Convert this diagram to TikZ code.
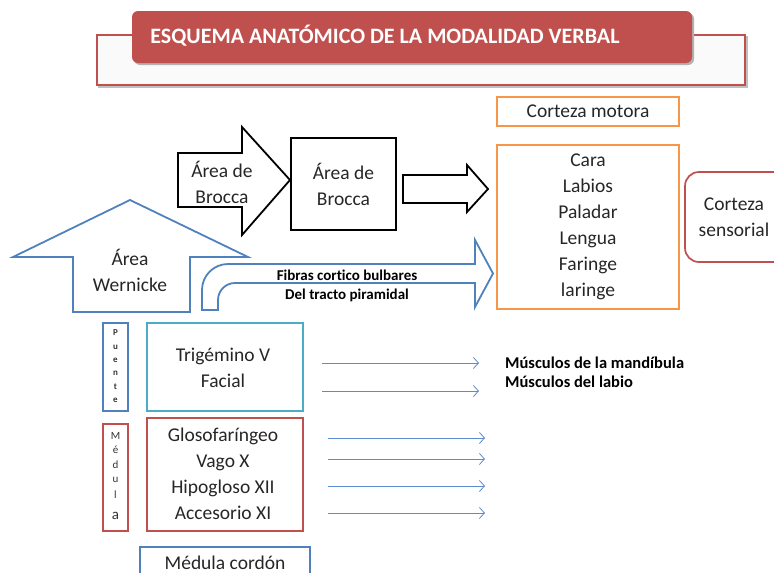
\documentclass[tikz,border=0pt]{standalone}
\usepackage{fontspec}
\setmainfont{Carlito}[Ligatures=NoCommon]
\usetikzlibrary{arrows.meta}
\definecolor{cred}{HTML}{C0504D}
\definecolor{corange}{HTML}{F79646}
\definecolor{cblue}{HTML}{4F81BD}
\definecolor{ccyan}{HTML}{4BACC6}
\definecolor{carrow}{HTML}{5B8BD0}
\tikzset{
  txt/.style={font=\fontsize{19.5}{26}\selectfont, align=center, inner sep=0pt, text=black!85},
  small/.style={font=\fontsize{15}{19}\selectfont\bfseries, align=center, inner sep=0pt},
  boxline/.style={line width=1.7pt},
  thinarrow/.style={draw=carrow, line width=0.8pt, -{Straight Barb[length=5pt,width=11pt]}},
  tiny/.style={font=\fontsize{9}{10}\selectfont\bfseries, inner sep=0pt, text=black!80},
}
\begin{document}
\begin{tikzpicture}[x=1pt,y=-1pt]
\useasboundingbox (0,0) rectangle (774,573);
\clip (0,0) rectangle (774,573);
% title frame
\draw[black!25, line width=1.6pt, fill=black!2] (99,37) rectangle (747,87);
\draw[cred, line width=1.5pt, fill=black!2] (97,35) rectangle (745,85);
\fill[black!30, rounded corners=6pt] (134,13) rectangle (694,65);
\node[fill=cred, rounded corners=6pt, minimum width=560pt, minimum height=52pt, inner sep=0pt] (titlebox) at (412,37) {};
\node[font=\fontsize{22}{26}\selectfont\bfseries, text=white, inner sep=0pt] (title) at (385,36) {ESQUEMA ANATÓMICO DE LA MODALIDAD VERBAL};
% Corteza motora
\node[draw=corange, boxline, minimum width=182pt, minimum height=29pt, txt] (motora) at (588,111.5) {Corteza motora};
\node[draw=corange, boxline, minimum width=182pt, minimum height=164pt, txt] (partes) at (588,227) {Cara\\Labios\\Paladar\\Lengua\\Faringe\\laringe};
% Corteza sensorial
\node[draw=cred, boxline, rounded corners=14pt, minimum width=110pt, minimum height=90pt, inner sep=0pt] (sensorialbox) at (740,217) {};
\node[txt] (sensorial) at (734,217.5) {Corteza\\sensorial};
% Brocca arrow
\draw[black, line width=1.8pt] (178,153) -- (242,153) -- (242,127) -- (290,180) -- (242,235) -- (242,207) -- (178,207) -- cycle;
\node[txt] (brocca1) at (222,182) {Área de\\Brocca};
\node[draw=black, line width=1.8pt, minimum width=105pt, minimum height=92pt, txt] (brocca2) at (343.5,184) {Área de\\Brocca};
% right black arrow
\draw[black, line width=1.8pt] (403,175) -- (467,175) -- (467,165) -- (488,189) -- (467,212) -- (467,203) -- (403,203) -- cycle;
% Wernicke arrow
\draw[cblue, line width=1.8pt] (73,312) -- (73,257) -- (13,257) -- (130,200) -- (248,257) -- (190,257) -- (190,312) -- cycle;
\node[txt] (wernicke) at (130,270.5) {Área\\Wernicke};
% bent arrow
\draw[cblue, line width=1.8pt] (202,310) -- (202,290) arc[start angle=180, end angle=90, radius=26pt] -- (475,264) -- (475,240) -- (493,273.5) -- (475,307) -- (475,283) -- (235,283) arc[start angle=90, end angle=180, radius=17pt] -- (218,310) -- cycle;
\node[small] (fibras) at (347,285.5) {Fibras cortico bulbares\\Del tracto piramidal};
% Puente
\node[draw=cblue, line width=2pt, minimum width=25pt, minimum height=88pt, inner sep=0pt] (puente) at (115.5,367) {};
\foreach \l/\y [count=\i] in {P/333,u/347,e/360,n/373,t/387,e/400} \node[tiny] (p\i) at (115.5,\y) {\l};
\node[draw=ccyan, boxline, minimum width=156pt, minimum height=88pt, txt] (trig) at (225,367) {};
\node[txt] (trigtxt) at (223,367.5) {Trigémino V\\Facial};
% Medula
\node[draw=cred, line width=2pt, minimum width=25pt, minimum height=107pt, inner sep=0pt] (medula) at (115.5,477.5) {};
\foreach \l/\y [count=\i] in {M/436,é/450,d/465,u/480,l/495} \node[tiny, font=\fontsize{11}{12}\selectfont] (m\i) at (115.5,\y) {\l};
\node[inner sep=0pt, font=\fontsize{15}{16}\selectfont, text=black!80] (m6) at (115.5,516) {a};
\node[draw=cred, boxline, minimum width=156pt, minimum height=113pt] (nervios) at (225,474.5) {};
\node[txt] (nervtxt) at (223,474) {Glosofaríngeo\\Vago X\\Hipogloso XII\\Accesorio XI};
% Medula cordon
\node[draw=cblue, line width=2pt, minimum width=170pt, minimum height=50pt] (cordon) at (225,572) {};
\node[txt] (cordontxt) at (225,563) {Médula cordón};
% thin arrows
\coordinate (a1s) at (322,363); \coordinate (a1e) at (479,363);
\coordinate (a2s) at (322,391); \coordinate (a2e) at (479,391);
\coordinate (a3s) at (328,438); \coordinate (a3e) at (485,438);
\coordinate (a4s) at (328,459); \coordinate (a4e) at (485,459);
\coordinate (a5s) at (328,486); \coordinate (a5e) at (485,486);
\coordinate (a6s) at (328,513); \coordinate (a6e) at (485,513);
\foreach \i in {1,...,6} \draw[thinarrow] (a\i s) -- (a\i e);
% Musculos
\node[small, align=left, anchor=west, font=\fontsize{16.5}{19}\selectfont\bfseries] (musc) at (505,372.5) {Músculos de la mandíbula\\Músculos del labio};
\end{tikzpicture}
\end{document}
